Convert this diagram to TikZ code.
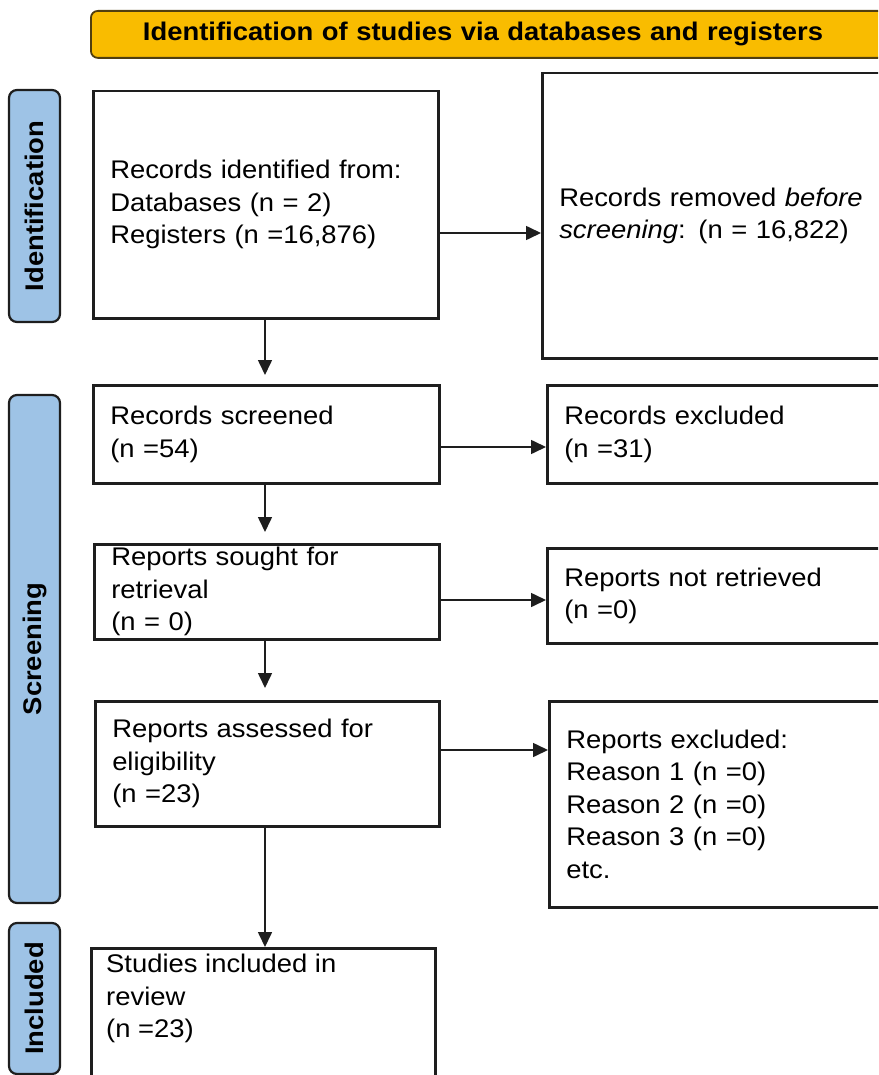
\documentclass[tikz,border=0pt]{standalone}
\usepackage{fontspec}
\setmainfont{Liberation Sans}[FakeStretch=1.075]
\usetikzlibrary{arrows.meta}
\definecolor{hdryellow}{RGB}{249,188,0}
\definecolor{hdredge}{RGB}{80,62,15}
\definecolor{tabblue}{RGB}{158,195,230}
\definecolor{edge}{RGB}{30,30,30}
\begin{document}
\begin{tikzpicture}[x=1pt,y=-1pt,
  every node/.style={font=\fontsize{25.5}{32.5}\selectfont},
  hdr/.style={draw=hdredge, fill=hdryellow, line width=1.8pt, rounded corners=7pt,
    anchor=north west, minimum width=800pt, minimum height=47pt, text width=696pt,
    inner xsep=52pt, inner ysep=0pt, align=left, font=\fontsize{25.5}{30}\selectfont\bfseries},
  tab/.style={draw=edge, fill=tabblue, line width=2.2pt, rounded corners=8pt, rotate=90,
    minimum height=51pt, inner sep=0pt, font=\fontsize{25.5}{30}\selectfont\bfseries},
  box/.style={draw=edge, line width=2.5pt, anchor=north west, align=left,
    inner xsep=17pt, inner ysep=0pt},
  arr/.style={-{Triangle[length=15pt,width=14pt]}, line width=1.6pt, draw=edge}]
\useasboundingbox (0,0) rectangle (878,1075);
\clip (0,0) rectangle (878,1075);

% header
\node[hdr] (hdr) at (90,10) {Identification of studies via databases and registers};

% side tabs
\node[tab, minimum width=232pt] (tid) at (34.5,206) {Identification};
\node[tab, minimum width=508pt] (tsc) at (34.5,649) {Screening};
\node[tab, minimum width=151pt] (tin) at (34.5,998.5) {Included};

% boxes
\node[box, minimum width=345pt, minimum height=227pt, text width=311pt] (b1) at (92,90)
  {Records identified from:\\Databases (n = 2)\\Registers (n =16,876)};
\node[box, minimum width=364pt, minimum height=285pt, text width=330pt] (b2) at (541,72)
  {Records removed {\itshape before}\\{\itshape screening}: (n = 16,822)};
\node[box, minimum width=346pt, minimum height=98pt, text width=312pt] (scr) at (92,384)
  {Records screened\\(n =54)};
\node[box, minimum width=364pt, minimum height=98pt, text width=330pt] (exc) at (546,384)
  {Records excluded\\(n =31)};
\node[box, minimum width=345pt, minimum height=95pt, text width=311pt] (sou) at (93,543)
  {Reports sought for\\retrieval\\(n = 0)};
\node[box, minimum width=364pt, minimum height=95pt, text width=330pt] (nr) at (546,547)
  {Reports not retrieved\\(n =0)};
\node[box, minimum width=344pt, minimum height=125pt, text width=310pt] (ass) at (94,700)
  {Reports assessed for\\eligibility\\(n =23)};
\node[box, minimum width=364pt, minimum height=206pt, text width=330pt] (rex) at (548,700)
  {Reports excluded:\\Reason 1 (n =0)\\Reason 2 (n =0)\\Reason 3 (n =0)\\etc.};
\node[box, minimum width=344pt, minimum height=150pt, text width=310pt] (stu) at (90,947) {};
\node[anchor=north west, align=left, inner sep=0pt] (stut) at (106,954)
  {Studies included in\\review\\(n =23)};

% connector levels
\coordinate (y1) at (0,233);
\coordinate (y2) at (0,447);
\coordinate (y3) at (0,600);
\coordinate (y4) at (0,750);
\coordinate (xm) at (265,0);

% horizontal arrows
\draw[arr] (b1.east |- y1) -- (b2.west |- y1);
\draw[arr] (scr.east |- y2) -- (exc.west |- y2);
\draw[arr] (sou.east |- y3) -- (nr.west |- y3);
\draw[arr] (ass.east |- y4) -- (rex.west |- y4);

% vertical arrows
\draw[arr, shorten >=9pt] (b1.south -| xm) -- (scr.north -| xm);
\draw[arr, shorten >=11pt] (scr.south -| xm) -- (sou.north -| xm);
\draw[arr, shorten >=12pt] (sou.south -| xm) -- (ass.north -| xm);
\draw[arr] (ass.south -| xm) -- (stu.north -| xm);
\end{tikzpicture}
\end{document}
